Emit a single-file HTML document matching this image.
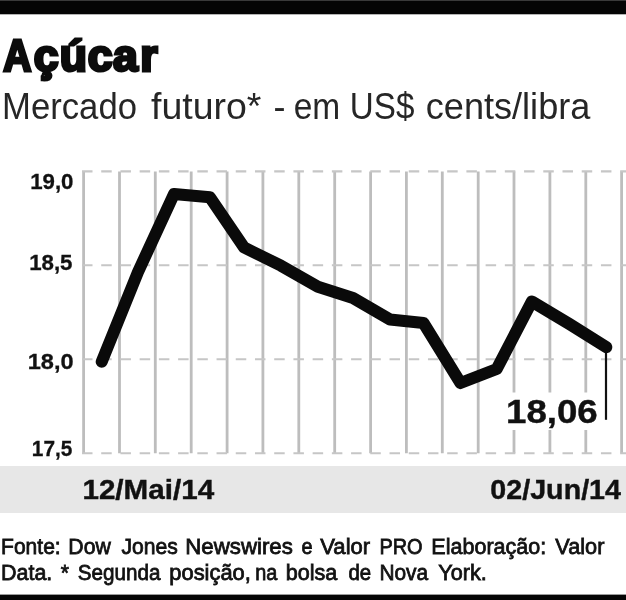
<!DOCTYPE html>
<html><head><meta charset="utf-8">
<style>
html,body{margin:0;padding:0;background:#fff;}
body{width:626px;height:600px;overflow:hidden;position:relative;font-family:"Liberation Sans",sans-serif;}
svg{position:absolute;left:0;top:0;display:block;}
text{font-family:"Liberation Sans",sans-serif;}
</style></head><body>
<svg width="626" height="600" viewBox="0 0 626 600">
<rect x="0" y="0" width="626" height="600" fill="#fff"/>
<rect x="0" y="0" width="626" height="14.3" fill="#050505"/>
<rect x="0" y="0" width="626" height="1" fill="#3a3a3a"/>
<rect x="0" y="594.6" width="626" height="6" fill="#050505"/>
<rect x="0" y="466" width="626" height="47" fill="#e7e7e7"/>
<text id="title" y="70.8" font-size="44.6" font-weight="bold" fill="#0c0c0c" stroke="#0c0c0c" stroke-width="3" stroke-linejoin="miter" paint-order="stroke"><tspan x="3.2" textLength="28.2" lengthAdjust="spacingAndGlyphs">A</tspan><tspan x="33.7 59.7 87.8 113.1 140.15">çúcar</tspan></text>
<text id="sub" font-size="36" font-weight="normal" fill="#262626"><tspan x="2.07" y="119.3" textLength="134.91" lengthAdjust="spacingAndGlyphs">Mercado</tspan> <tspan x="151.00" y="119.3" textLength="110.41" lengthAdjust="spacingAndGlyphs">futuro*</tspan> <tspan x="273.50" y="119.3" textLength="11.99" lengthAdjust="spacingAndGlyphs">-</tspan> <tspan x="293.67" y="119.3" textLength="46.48" lengthAdjust="spacingAndGlyphs">em</tspan> <tspan x="349.86" y="119.3" textLength="64.56" lengthAdjust="spacingAndGlyphs">US$</tspan> <tspan x="425.80" y="119.3" textLength="164.52" lengthAdjust="spacingAndGlyphs">cents/libra</tspan></text>
<path d="M83.6,171.4V453.2 M119.5,171.4V453.2 M155.3,171.4V453.2 M191.2,171.4V453.2 M227.1,171.4V453.2 M262.9,171.4V453.2 M298.8,171.4V453.2 M334.7,171.4V453.2 M370.6,171.4V453.2 M406.4,171.4V453.2 M442.3,171.4V453.2 M478.2,171.4V453.2 M514.0,171.4V453.2 M549.9,171.4V453.2 M585.8,171.4V453.2 M621.6,171.4V453.2" stroke="#bdbdbd" stroke-width="2.8" fill="none"/>
<path d="M82,171.4H626 M82,265.3H626 M82,359.3H626 M82,453.2H626" stroke="#c6c6c6" stroke-width="2.1" fill="none" stroke-dasharray="10.5 8.72"/>
<rect x="500" y="392.5" width="112" height="37.5" fill="#fff"/>
<path d="M606,347V419.8" stroke="#111" stroke-width="2.2" fill="none"/>
<polyline fill="none" stroke="#0a0a0a" stroke-width="12" stroke-linejoin="round" stroke-linecap="round" points="101.7,361.7 138,272 174,194 210,197.3 244,247.4 281,265.7 317.9,286.8 353,298 390,319.5 423.5,323 460.5,383 496.7,369 531.8,301.5 569.4,324 606.3,347.2"/>
<text id="val" font-size="33.5" font-weight="bold" fill="#111" stroke="#111" stroke-width="0.4" stroke-linejoin="miter" paint-order="stroke"><tspan x="506.01" y="423.1" textLength="91.78" lengthAdjust="spacingAndGlyphs">18,06</tspan></text>
<text id="y1" font-size="22.8" font-weight="bold" fill="#111" stroke="#111" stroke-width="0.3" stroke-linejoin="miter" paint-order="stroke"><tspan x="30.17" y="189.4" textLength="43.34" lengthAdjust="spacingAndGlyphs">19,0</tspan></text>
<text id="y2" font-size="22.8" font-weight="bold" fill="#111" stroke="#111" stroke-width="0.3" stroke-linejoin="miter" paint-order="stroke"><tspan x="29.17" y="270" textLength="43.36" lengthAdjust="spacingAndGlyphs">18,5</tspan></text>
<text id="y3" font-size="22.8" font-weight="bold" fill="#111" stroke="#111" stroke-width="0.3" stroke-linejoin="miter" paint-order="stroke"><tspan x="27.72" y="369" textLength="45.83" lengthAdjust="spacingAndGlyphs">18,0</tspan></text>
<text id="y4" font-size="22.8" font-weight="bold" fill="#111" stroke="#111" stroke-width="0.3" stroke-linejoin="miter" paint-order="stroke"><tspan x="31.84" y="455.5" textLength="40.52" lengthAdjust="spacingAndGlyphs">17,5</tspan></text>
<text id="d1" font-size="27.4" font-weight="bold" fill="#111" stroke="#111" stroke-width="0.4" stroke-linejoin="miter" paint-order="stroke"><tspan x="82.42" y="499" textLength="131.75" lengthAdjust="spacingAndGlyphs">12/Mai/14</tspan></text>
<text id="d2" font-size="27.4" font-weight="bold" fill="#111" stroke="#111" stroke-width="0.4" stroke-linejoin="miter" paint-order="stroke"><tspan x="490.35" y="499" textLength="130.64" lengthAdjust="spacingAndGlyphs">02/Jun/14</tspan></text>
<text id="f1" font-size="22.6" font-weight="normal" fill="#111" stroke="#111" stroke-width="0.8" stroke-linejoin="miter" paint-order="stroke"><tspan x="1.07" y="554.3" textLength="59.62" lengthAdjust="spacingAndGlyphs">Fonte:</tspan> <tspan x="68.36" y="554.3" textLength="42.40" lengthAdjust="spacingAndGlyphs">Dow</tspan> <tspan x="121.40" y="554.3" textLength="56.38" lengthAdjust="spacingAndGlyphs">Jones</tspan> <tspan x="185.32" y="554.3" textLength="107.48" lengthAdjust="spacingAndGlyphs">Newswires</tspan> <tspan x="301.62" y="554.3" textLength="11.06" lengthAdjust="spacingAndGlyphs">e</tspan> <tspan x="320.30" y="554.3" textLength="49.84" lengthAdjust="spacingAndGlyphs">Valor</tspan> <tspan x="379.42" y="554.3" textLength="43.19" lengthAdjust="spacingAndGlyphs">PRO</tspan> <tspan x="431.35" y="554.3" textLength="114.87" lengthAdjust="spacingAndGlyphs">Elaboração:</tspan> <tspan x="555.30" y="554.3" textLength="49.14" lengthAdjust="spacingAndGlyphs">Valor</tspan></text>
<text id="f2" font-size="22.6" font-weight="normal" fill="#111" stroke="#111" stroke-width="0.8" stroke-linejoin="miter" paint-order="stroke"><tspan x="1.05" y="580.3" textLength="51.26" lengthAdjust="spacingAndGlyphs">Data.</tspan> <tspan x="60.70" y="580.3" textLength="8.21" lengthAdjust="spacingAndGlyphs">*</tspan> <tspan x="77.79" y="580.3" textLength="82.72" lengthAdjust="spacingAndGlyphs">Segunda</tspan> <tspan x="169.33" y="580.3" textLength="81.51" lengthAdjust="spacingAndGlyphs">posição,</tspan> <tspan x="255.26" y="580.3" textLength="22.12" lengthAdjust="spacingAndGlyphs">na</tspan> <tspan x="285.74" y="580.3" textLength="51.64" lengthAdjust="spacingAndGlyphs">bolsa</tspan> <tspan x="348.40" y="580.3" textLength="22.71" lengthAdjust="spacingAndGlyphs">de</tspan> <tspan x="379.38" y="580.3" textLength="48.72" lengthAdjust="spacingAndGlyphs">Nova</tspan> <tspan x="438.30" y="580.3" textLength="48.52" lengthAdjust="spacingAndGlyphs">York.</tspan></text>
</svg>
</body></html>
